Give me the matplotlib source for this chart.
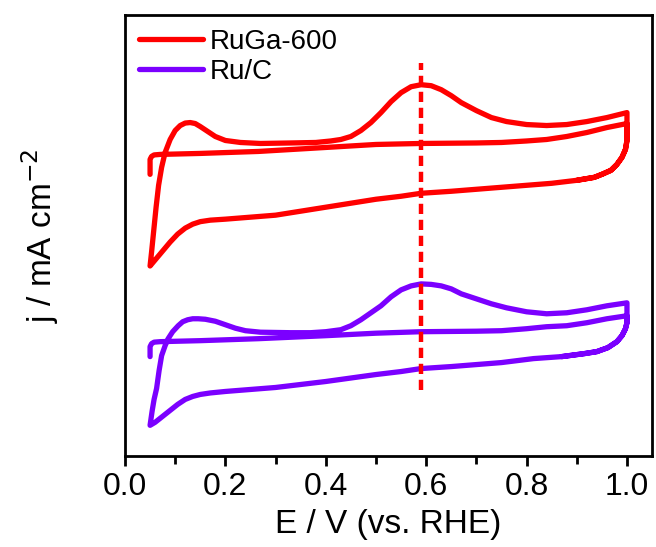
import matplotlib
matplotlib.use('Agg')
from matplotlib import pyplot as plt

plt.rcParams['font.family'] = ['Liberation Sans', 'DejaVu Sans']

# RuGa-600: first anodic sweep, cathodic sweep, second anodic sweep
ruga_fwd1_E = [0.050, 0.050, 0.053, 0.058, 0.07, 0.15, 0.266, 0.40, 0.50, 0.59, 0.70, 0.75, 0.80, 0.84, 0.88, 0.92, 0.96, 1.00]
ruga_fwd1_j = [2.83, 2.98, 3.01, 3.025, 3.03, 3.04, 3.06, 3.10, 3.13, 3.14, 3.145, 3.15, 3.165, 3.18, 3.21, 3.25, 3.30, 3.34]
ruga_rev_E = [1.000, 1.000, 0.997, 0.990, 0.980, 0.968, 0.950, 0.935, 0.90, 0.85, 0.80, 0.75, 0.70, 0.65, 0.59,
              0.55, 0.50, 0.45, 0.40, 0.35, 0.30, 0.25, 0.20, 0.17, 0.15, 0.135, 0.12, 0.105, 0.09, 0.075, 0.06, 0.05]
ruga_rev_j = [3.34, 3.17, 3.08, 3.00, 2.93, 2.87, 2.83, 2.80, 2.77, 2.74, 2.72, 2.70, 2.68, 2.66, 2.64,
              2.61, 2.58, 2.54, 2.50, 2.46, 2.42, 2.40, 2.38, 2.37, 2.355, 2.33, 2.29, 2.23, 2.15, 2.06, 1.97, 1.91]
ruga_fwd2_E = [0.050, 0.053, 0.057, 0.062, 0.067, 0.073, 0.08, 0.09, 0.10, 0.11, 0.12, 0.13, 0.14, 0.15, 0.165,
               0.18, 0.20, 0.23, 0.27, 0.33, 0.38, 0.41, 0.43, 0.45, 0.47, 0.49, 0.51, 0.53, 0.55, 0.57, 0.59,
               0.61, 0.63, 0.65, 0.67, 0.70, 0.73, 0.76, 0.80, 0.84, 0.88, 0.92, 0.96, 1.00]
ruga_fwd2_j = [1.91, 2.05, 2.25, 2.50, 2.72, 2.90, 3.05, 3.18, 3.27, 3.32, 3.345, 3.35, 3.34, 3.31, 3.26,
               3.21, 3.17, 3.15, 3.14, 3.145, 3.15, 3.165, 3.18, 3.21, 3.27, 3.35, 3.45, 3.56, 3.65, 3.71, 3.73,
               3.72, 3.68, 3.62, 3.55, 3.47, 3.40, 3.36, 3.33, 3.32, 3.33, 3.36, 3.40, 3.45]

# Ru/C: same sweep order
ruc_fwd1_E = [0.050, 0.050, 0.053, 0.058, 0.07, 0.15, 0.266, 0.40, 0.50, 0.59, 0.70, 0.75, 0.80, 0.84, 0.88, 0.92, 0.96, 1.00]
ruc_fwd1_j = [1.00, 1.10, 1.13, 1.145, 1.15, 1.16, 1.18, 1.21, 1.235, 1.25, 1.255, 1.26, 1.28, 1.30, 1.31, 1.34, 1.38, 1.41]
ruc_rev_E = [1.000, 1.000, 0.997, 0.990, 0.980, 0.962, 0.940, 0.915, 0.87, 0.814, 0.75, 0.70, 0.65, 0.59,
             0.55, 0.50, 0.45, 0.40, 0.35, 0.30, 0.25, 0.20, 0.17, 0.15, 0.135, 0.12, 0.105, 0.09, 0.075, 0.06, 0.05]
ruc_rev_j = [1.41, 1.34, 1.28, 1.21, 1.15, 1.09, 1.05, 1.03, 1.00, 0.98, 0.94, 0.92, 0.90, 0.88,
             0.85, 0.82, 0.785, 0.75, 0.72, 0.69, 0.67, 0.65, 0.635, 0.62, 0.60, 0.57, 0.52, 0.46, 0.40, 0.34, 0.31]
ruc_fwd2_E = [0.050, 0.054, 0.058, 0.063, 0.068, 0.073, 0.08, 0.086, 0.095, 0.106, 0.115, 0.125, 0.135, 0.146,
              0.16, 0.18, 0.20, 0.22, 0.24, 0.27, 0.33, 0.37, 0.40, 0.43, 0.45, 0.47, 0.49, 0.51, 0.53, 0.55,
              0.57, 0.59, 0.61, 0.63, 0.65, 0.67, 0.70, 0.73, 0.76, 0.80, 0.84, 0.88, 0.92, 0.96, 1.00]
ruc_fwd2_j = [0.31, 0.45, 0.57, 0.68, 0.86, 1.01, 1.11, 1.18, 1.25, 1.31, 1.35, 1.37, 1.38, 1.38,
              1.375, 1.355, 1.32, 1.285, 1.26, 1.245, 1.24, 1.24, 1.25, 1.27, 1.31, 1.37, 1.44, 1.51, 1.60, 1.67,
              1.71, 1.73, 1.725, 1.71, 1.68, 1.63, 1.58, 1.53, 1.49, 1.45, 1.43, 1.44, 1.47, 1.51, 1.54]

peak_E = 0.59
peak_line_j = [0.66, 3.95]

red = '#FF0000'
purple = '#7B00FF'


def full_cv(fwd1_E, fwd1_j, rev_E, rev_j, fwd2_E, fwd2_j):
    # second cycle turns back at 1.0 V onto the cathodic sweep again
    E = fwd1_E + rev_E[1:] + fwd2_E[1:] + rev_E[1:9]
    j = fwd1_j + rev_j[1:] + fwd2_j[1:] + rev_j[1:9]
    return E, j


ruga_E, ruga_j = full_cv(ruga_fwd1_E, ruga_fwd1_j, ruga_rev_E, ruga_rev_j, ruga_fwd2_E, ruga_fwd2_j)
ruc_E, ruc_j = full_cv(ruc_fwd1_E, ruc_fwd1_j, ruc_rev_E, ruc_rev_j, ruc_fwd2_E, ruc_fwd2_j)

fig = plt.figure(figsize=(6.56, 5.47), dpi=100)
ax = fig.add_axes([0.1905, 0.166, 0.8035, 0.8066])

ax.plot(ruga_E, ruga_j, color=red, lw=3.8, label='RuGa-600', solid_joinstyle='round', solid_capstyle='round')
ax.plot(ruc_E, ruc_j, color=purple, lw=3.8, label='Ru/C', solid_joinstyle='round', solid_capstyle='round')
ax.plot([peak_E, peak_E], peak_line_j, color=red, lw=3.2, linestyle=(0, (2.3, 1.3)))

ax.set_xlim(0, 1.05)
ax.set_ylim(0, 4.43)
ax.set_xticks([0.0, 0.2, 0.4, 0.6, 0.8, 1.0])
ax.set_xticklabels(['0.0', '0.2', '0.4', '0.6', '0.8', '1.0'])
ax.set_xticks([0.1, 0.3, 0.5, 0.7, 0.9], minor=True)
ax.set_yticks([])
ax.tick_params(axis='x', which='major', direction='out', length=7.5, width=2.0, labelsize=23, pad=4)
ax.tick_params(axis='x', which='minor', direction='out', length=5.5, width=2.0)
for s in ax.spines.values():
    s.set_linewidth(2.0)

ax.set_xlabel('E / V (vs. RHE)', fontsize=24, labelpad=5)
ax.set_ylabel('j / mA cm$^{-2}$', fontsize=24, labelpad=46)

ax.legend(loc='upper left', frameon=False, fontsize=20, handlelength=2.3, handletextpad=0.25,
          labelspacing=0.15, borderaxespad=0.3, borderpad=0.2)

plt.savefig('out.png', dpi=100)
